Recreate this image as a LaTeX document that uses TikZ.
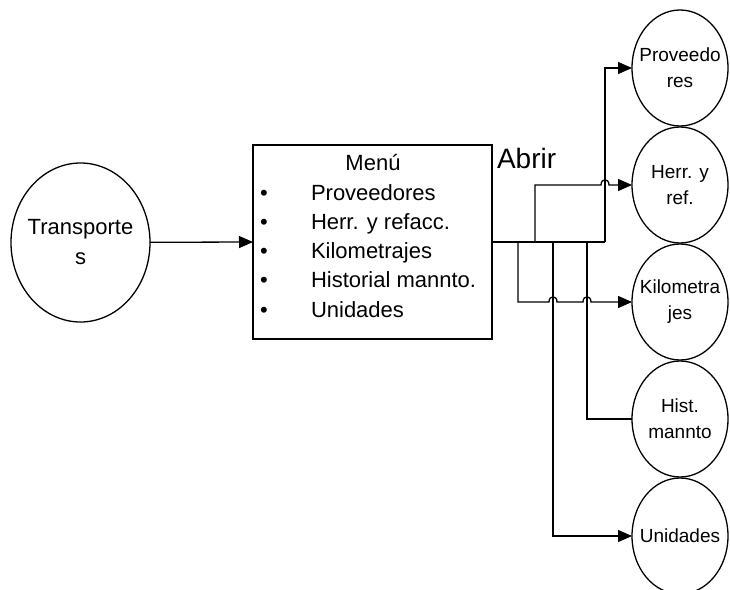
\documentclass[tikz,border=0pt]{standalone}
\usepackage{fontspec}
\setmainfont{Liberation Sans}
\usetikzlibrary{arrows.meta,shapes.geometric}
\begin{document}
\begin{tikzpicture}[x=1bp,y=-1bp,
  line width=1.3bp,
  every node/.style={inner sep=0pt, outer sep=0pt},
  bubble/.style={draw, ellipse, minimum width=96bp, minimum height=116bp,
    inner xsep=-14bp, align=center, font=\fontsize{19bp}{26bp}\selectfont},
  startbubble/.style={draw, ellipse, minimum width=139bp, minimum height=159bp,
    inner xsep=-14bp, align=center, font=\fontsize{22bp}{30bp}\selectfont},
  menubox/.style={draw, minimum width=239bp, minimum height=194bp},
  itemtext/.style={font=\fontsize{22bp}{26bp}\selectfont, text height=0.72em, text depth=0.21em},
  flow/.style={-{Triangle[length=14bp,width=12bp]}},
]
\useasboundingbox (0,0) rectangle (730,590);

% main nodes
\node[startbubble] (trans) at (80.5,242.5) {Transporte\\s};
\node[menubox] (menu) at (372.5,242) {};

% menu contents
\node[itemtext] (mtitle) at (373,168) {Menú};
\foreach \y/\lbl/\nm in {198/Proveedores/i1, 227/Herr. y refacc./i2, 256/Kilometrajes/i3,
                          285/Historial mannto./i4, 315/Unidades/i5}{
  \node[itemtext] (\nm b) at (264,\y) {•};
  \node[itemtext, anchor=west] (\nm) at (311,\y) {\lbl};
}

\node[font=\fontsize{28bp}{30bp}\selectfont, anchor=west, text height=0.72em, text depth=0em] (abrir) at (497,165) {Abrir};

% target modules
\node[bubble] (prov)  at (680,68)  {Proveedo\\res};
\node[bubble] (herr)  at (680,185) {Herr. y\\ref.};
\node[bubble] (kilo)  at (680,302) {Kilometra\\jes};
\node[bubble] (hist)  at (680,419) {Hist.\\mannto};
\node[bubble] (unid)  at (680,536) {Unidades};

% trunk and branch points
\coordinate (j1) at (605,242);
\coordinate (b1) at (518,242);
\coordinate (b2) at (535,242);
\coordinate (b3) at (553,242);
\coordinate (b4) at (587,242);

\draw[flow] (trans) -- (menu.west);
\draw (menu.east) -- (j1);
\draw[flow] (j1) |- (prov.west);
\draw[flow] (b2) -- (b2 |- herr.west) -- ++(66,0)
  .. controls +(0,-7) and +(0,-7) .. ++(8,0) -- (herr.west);
\draw[flow] (b1) -- (b1 |- kilo.west) -- ++(31,0)
  .. controls +(0,-7) and +(0,-7) .. ++(8,0) -- ++(26,0)
  .. controls +(0,-7) and +(0,-7) .. ++(8,0) -- (kilo.west);
\draw (b4) |- (hist.west);
\draw[flow] (b3) |- (unid.west);
\end{tikzpicture}
\end{document}
